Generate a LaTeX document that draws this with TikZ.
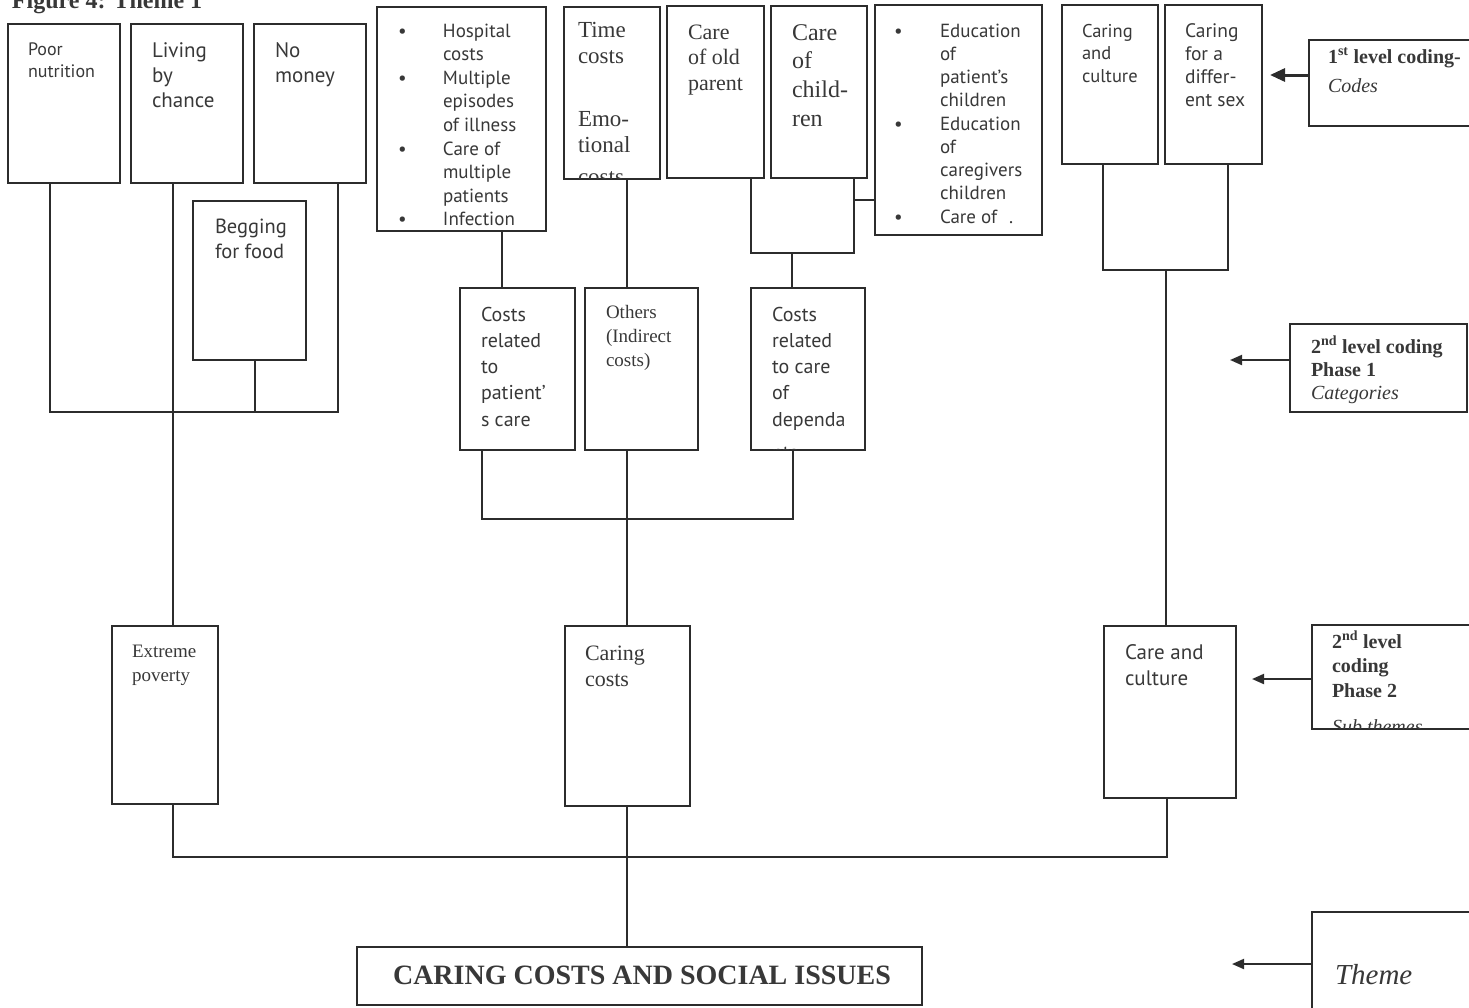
\documentclass[tikz,border=0pt]{standalone}
\usepackage{fontspec}
\setmainfont{Liberation Serif}
\newfontfamily\hsans{PT Sans}
\usetikzlibrary{arrows.meta,calc,fit}
\definecolor{ink}{HTML}{2C2C2C}
\definecolor{txt}{HTML}{383838}
% font helpers: size / leading
\newcommand\sfz[2]{\hsans\fontsize{#1}{#2}\selectfont}
\newcommand\rmz[2]{\rmfamily\fontsize{#1}{#2}\selectfont}
\newcommand\lines[1]{\parbox[t]{300pt}{#1}}
% bullet list helpers
\newcommand\blt[1]{\makebox[#1][l]{\textbullet}}
\newcommand\ind[1]{\hspace*{#1}}

\begin{document}
\begin{tikzpicture}[x=1pt,y=-1pt,
  frame/.style={draw=ink,line width=1.7pt,inner sep=0pt,outer sep=0pt},
  lbl/.style={anchor=base west,inner sep=0pt,outer sep=0pt,text=txt},
  wire/.style={draw=ink,line width=1.7pt},
  pointer/.style={draw=ink,line width=2pt,-{Triangle[length=12pt,width=10pt]}},
  bigpointer/.style={draw=ink,line width=3pt,-{Triangle[length=15pt,width=13pt]}},
]
\useasboundingbox (0,0) rectangle (1469,1007);

% ---------- title ----------
\node[lbl,font=\bfseries\rmz{24}{28}] (title) at (12,8) {Figure 4: Theme 1};

% ---------- first level codes ----------
\node[frame,fit={(8,24)(120,183)}]   (pn) {};
\node[frame,fit={(131,24)(243,183)}] (lc) {};
\node[frame,fit={(254,24)(366,183)}] (nm) {};
\node[frame,fit={(193,201)(306,360)}] (bf) {};
\node[frame,fit={(377,7)(546,231)}]  (hc) {};
\node[frame,fit={(564,7)(660,179)}]  (tc) {};
\node[frame,fit={(667,6)(764,178)}]  (op) {};
\node[frame,fit={(771,6)(867,178)}]  (ch) {};
\node[frame,fit={(875,5)(1042,235)}] (ed) {};
\node[frame,fit={(1062,5)(1158,164)}] (cu) {};
\node[frame,fit={(1165,5)(1262,164)}] (ds) {};

\node[lbl,font=\sfz{18}{22}] (pn-t) at (28,55) {\lines{Poor\\nutrition}};
\node[lbl,font=\sfz{21}{25}] (lc-t) at (152,57) {\lines{Living\\by\\chance}};
\node[lbl,font=\sfz{21}{25}] (nm-t) at (275,57) {\lines{No\\money}};
\node[lbl,font=\sfz{20.5}{25}] (bf-t) at (215,233) {\lines{Begging\\for food}};
\node[lbl,font=\sfz{19}{23.6}] (hc-t) at (398,37) {\lines{%
  \blt{45pt}Hospital\\\ind{45pt}costs\\
  \blt{45pt}Multiple\\\ind{45pt}episodes\\\ind{45pt}of illness\\
  \blt{45pt}Care of\\\ind{45pt}multiple\\\ind{45pt}patients\\
  \blt{45pt}Infection}};
\begin{scope}
  \clip (tc.north west) rectangle ([yshift=1pt]tc.south east);
  \node[lbl,font=\rmz{23}{26.5}] (tc-t) at (578,37) {\lines{Time\\costs\\[36pt]Emo-\\tional\\[5pt]costs}};
\end{scope}
\node[lbl,font=\rmz{22}{25.5}] (op-t) at (688,39) {\lines{Care\\of old\\parent}};
\node[lbl,font=\rmz{24}{28.7}] (ch-t) at (792,40) {\lines{Care\\of\\child-\\ren}};
\node[lbl,font=\sfz{19}{23.25}] (ed-t) at (894,37) {\lines{%
  \blt{46pt}Education\\\ind{46pt}of\\\ind{46pt}patient’s\\\ind{46pt}children\\
  \blt{46pt}Education\\\ind{46pt}of\\\ind{46pt}caregivers\\\ind{46pt}children\\
  \blt{46pt}Care of\hspace{12pt}.}};
\node[lbl,font=\sfz{18.5}{22.5}] (cu-t) at (1082,37) {\lines{Caring\\and\\culture}};
\node[lbl,font=\sfz{19.5}{23.3}] (ds-t) at (1185,37) {\lines{Caring\\for a\\differ-\\ent sex}};

% ---------- second level, phase 1 ----------
\node[frame,fit={(460,288)(575,450)}] (cr) {};
\node[frame,fit={(585,288)(698,450)}] (ot) {};
\node[frame,fit={(751,288)(865,450)}] (dp) {};

\node[lbl,font=\sfz{20}{26.3}] (cr-t) at (481,321) {\lines{Costs\\related\\to\\patient’\\s care}};
\node[lbl,font=\rmz{19}{24}] (ot-t) at (606,318) {\lines{Others\\(Indirect\\costs)}};
\begin{scope}
  \clip (dp.north west) rectangle ([yshift=1pt]dp.south east);
  \node[lbl,font=\sfz{20}{26.3}] (dp-t) at (772,321) {\lines{Costs\\related\\to care\\of\\dependa\\[7pt]nts}};
\end{scope}

% ---------- second level, phase 2 ----------
\node[frame,fit={(112,626)(218,804)}]  (ep) {};
\node[frame,fit={(565,626)(690,806)}]  (cc) {};
\node[frame,fit={(1104,626)(1236,798)}] (ca) {};

\node[lbl,font=\rmz{19}{24}] (ep-t) at (132,657) {\lines{Extreme\\poverty}};
\node[lbl,font=\rmz{22}{26}] (cc-t) at (585,660) {\lines{Caring\\costs}};
\node[lbl,font=\sfz{21}{26}] (ca-t) at (1125,659) {\lines{Care and\\culture}};

% ---------- theme ----------
\node[frame,fit={(357,947)(922,1005)}] (th) {};
\node[anchor=base,inner sep=0pt,text=txt,font=\bfseries\rmz{28}{30}] (th-t) at (642,984) {CARING COSTS AND SOCIAL ISSUES};

% ---------- level captions on the right ----------
\node[frame,fit={(1309,40)(1485,126)}] (l1) {};
\node[lbl,font=\rmz{20}{29}] (l1-t) at (1328,63) {\lines{\textbf{1\textsuperscript{st} level coding-}\\\textit{Codes}}};
\node[frame,fit={(1290,324)(1467,412)}] (l2) {};
\node[lbl,font=\rmz{20}{23}] (l2-t) at (1311,353) {\lines{\textbf{2\textsuperscript{nd} level coding}\\\textbf{Phase 1}\\\textit{Categories}}};
\node[frame,fit={(1312,625)(1485,729)}] (l3) {};
\begin{scope}
  \clip (l3.north west) rectangle ([yshift=1pt]l3.south east);
  \node[lbl,font=\rmz{20}{24.5}] (l3-t) at (1332,648) {\lines{\textbf{2\textsuperscript{nd} level}\\\textbf{coding}\\\textbf{Phase 2}\\[12pt]\textit{Sub themes}}};
\end{scope}
\node[frame,fit={(1312,912)(1485,1020)}] (l4) {};
\node[lbl,font=\itshape\rmz{29}{32}] (l4-t) at (1335,984) {Theme};

% ---------- connectors ----------
% extreme poverty branch
\coordinate (jPN) at (50,412);
\coordinate (jBF) at (255,412);
\coordinate (jNM) at (338,412);
\coordinate (xL) at (173,0);
\draw[wire] (pn.south -| jPN) -- (jPN) -- (jNM) -- (nm.south -| jNM);
\draw[wire] (bf.south -| jBF) -- (jBF);
\draw[wire] (lc.south -| xL) -- (ep.north -| xL);

% caring costs branch
\coordinate (xH) at (502,0);
\coordinate (xM) at (627,0);
\draw[wire] (hc.south -| xH) -- (cr.north -| xH);
\draw[wire] (tc.south -| xM) -- (ot.north -| xM);
\coordinate (jOP) at (751,253);
\coordinate (jCH) at (854,253);
\coordinate (jED) at (854,200);
\coordinate (jDP) at (792,253);
\draw[wire] (op.south -| jOP) -- (jOP) -- (jCH) -- (ch.south -| jCH);
\draw[wire] (jED) -- (ed.west |- jED);
\draw[wire] (jDP) -- (dp.north -| jDP);
\coordinate (jCR) at (482,519);
\coordinate (jDQ) at (793,519);
\draw[wire] (cr.south -| jCR) -- (jCR) -- (jDQ) -- (dp.south -| jDQ);
\draw[wire] (ot.south -| xM) -- (cc.north -| xM);

% care and culture branch
\coordinate (jCU) at (1103,270);
\coordinate (jDS) at (1228,270);
\coordinate (jCA) at (1166,270);
\draw[wire] (cu.south -| jCU) -- (jCU) -- (jDS) -- (ds.south -| jDS);
\draw[wire] (jCA) -- (ca.north -| jCA);

% sub themes into the theme
\coordinate (jEP) at (173,857);
\coordinate (jCA2) at (1167,857);
\draw[wire] (ep.south -| jEP) -- (jEP) -- (jCA2) -- (ca.south -| jCA2);
\draw[wire] (cc.south -| xM) -- (th.north -| xM);

% caption pointers
\coordinate (a1) at (1270,75);
\coordinate (a2) at (1230,360);
\coordinate (a3) at (1252,679);
\coordinate (a4) at (1232,964);
\draw[bigpointer] (l1.west |- a1) -- (a1);
\draw[pointer] (l2.west |- a2) -- (a2);
\draw[pointer] (l3.west |- a3) -- (a3);
\draw[pointer] (l4.west |- a4) -- (a4);
\end{tikzpicture}
\end{document}
